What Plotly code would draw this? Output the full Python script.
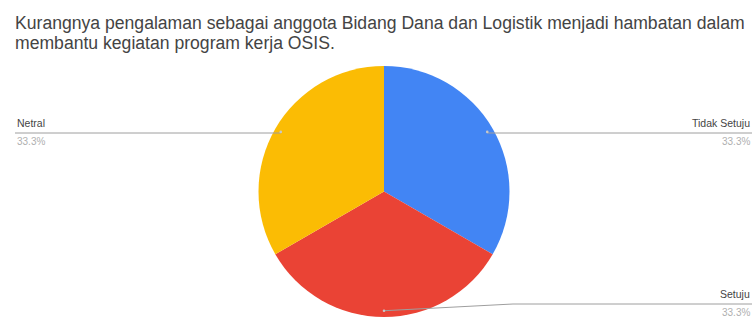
import math
import plotly.graph_objects as go

title_lines = ["Kurangnya pengalaman sebagai anggota Bidang Dana dan Logistik menjadi hambatan dalam",
               "membantu kegiatan program kerja OSIS."]
labels = ["Tidak Setuju", "Setuju", "Netral"]
values = [1, 1, 1]
colors = ["#4285F4", "#EA4335", "#FBBC04"]

W, H = 755, 317
def px(x): return x / W
def py(y): return 1 - y / H

# pie geometry (pixels)
dom_x = (258, 510)
dom_y_top, dom_y_bot = 66, 317
R = min(dom_x[1] - dom_x[0], dom_y_bot - dom_y_top) / 2
cx = (dom_x[0] + dom_x[1]) / 2
cy = (dom_y_top + dom_y_bot) / 2

fig = go.Figure(go.Pie(
    labels=labels, values=values, sort=False, direction="clockwise", rotation=0,
    marker=dict(colors=colors, line=dict(width=0)),
    textinfo="none", hoverinfo="label+percent", showlegend=False,
    domain=dict(x=[px(dom_x[0]), px(dom_x[1])], y=[py(dom_y_bot), py(dom_y_top)]),
))

total = sum(values)
shapes, annos = [], []
label_line_y = {"Tidak Setuju": 133, "Setuju": 304, "Netral": 133}
acc = 0
for lab, v in zip(labels, values):
    mid = (acc + v / 2) / total * 2 * math.pi
    acc += v
    dx = math.sin(mid)
    dy = -math.cos(mid)
    r = 0.95 * R
    x0, y0 = cx + dx * r, cy + dy * r
    ly = label_line_y[lab]
    right = dx > 1e-6 or abs(dx) < 1e-6
    xend = 752 if right else 15
    if abs(y0 - ly) > 2:
        xb = x0 + 129 if right else x0 - 129
        shapes.append(dict(type="line", xref="paper", yref="paper", x0=px(x0), y0=py(y0),
                           x1=px(xb), y1=py(ly), line=dict(color="#9e9e9e", width=1)))
        shapes.append(dict(type="line", xref="paper", yref="paper", x0=px(xb), y0=py(ly),
                           x1=px(xend), y1=py(ly), line=dict(color="#9e9e9e", width=1)))
    else:
        shapes.append(dict(type="line", xref="paper", yref="paper", x0=px(x0), y0=py(ly),
                           x1=px(xend), y1=py(ly), line=dict(color="#9e9e9e", width=1)))
    shapes.append(dict(type="circle", xref="paper", yref="paper",
                       x0=px(x0 - 1.3), x1=px(x0 + 1.3), y0=py(y0 - 1.3), y1=py(y0 + 1.3),
                       fillcolor="#c8c8c8", line=dict(width=0)))
    pct = f"{v / total * 100:.1f}%"
    anchor = "right" if right else "left"
    annos.append(dict(text=lab, x=px(xend), y=py(ly - 2), xref="paper", yref="paper",
                      xanchor=anchor, yanchor="bottom", showarrow=False,
                      font=dict(family="Liberation Sans, Arial", size=10.5, color="#444444")))
    annos.append(dict(text=pct, x=px(xend), y=py(ly + 1), xref="paper", yref="paper",
                      xanchor=anchor, yanchor="top", showarrow=False,
                      font=dict(family="Liberation Sans, Arial", size=10, color="#b0b0b0")))

for i, line in enumerate(title_lines):
    annos.append(dict(text=line, x=px(13), y=py(11 + 20 * i), xref="paper", yref="paper",
                      xanchor="left", yanchor="top", align="left", showarrow=False,
                      font=dict(family="Liberation Sans, Arial", size=17.6, color="#444444")))

fig.update_layout(width=W, height=H, margin=dict(l=0, r=0, t=0, b=0),
                  paper_bgcolor="white", plot_bgcolor="white",
                  shapes=shapes, annotations=annos)
fig.write_html("out.html", config={"displayModeBar": False},
               post_script="document.body.style.margin='0';document.body.style.padding='0';")
